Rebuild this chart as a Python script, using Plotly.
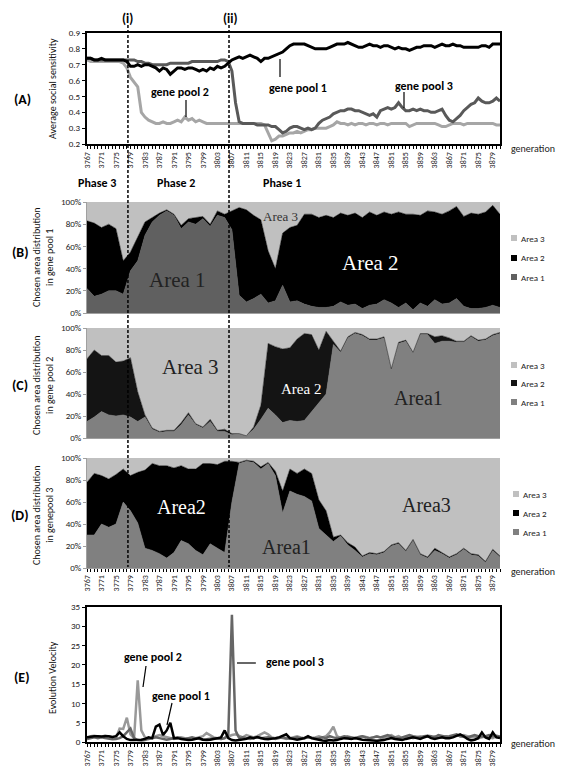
import plotly.graph_objects as go

W, H = 562, 771
def fx(p): return p / W
def fy(p): return 1 - p / H

# ---------------- data ----------------
GEN = list(range(3767, 3882))          # every generation (panels A, E)
GEN2 = list(range(3767, 3882, 2))      # every second generation (panels B-D)
TICKS = list(range(3767, 3880, 4))

# (A) average social sensitivity
A_GP1 = [0.74,0.74,0.73,0.73,0.74,0.73,0.73,0.73,0.73,0.73,
         0.73,0.72,0.69,0.69,0.70,0.69,0.70,0.70,0.69,0.68,
         0.66,0.68,0.67,0.64,0.66,0.68,0.68,0.67,0.68,0.68,
         0.67,0.66,0.67,0.66,0.68,0.67,0.69,0.68,0.69,0.71,
         0.73,0.74,0.75,0.74,0.75,0.76,0.75,0.74,0.72,0.74,
         0.74,0.75,0.76,0.77,0.78,0.80,0.82,0.83,0.83,0.83,
         0.83,0.82,0.81,0.80,0.80,0.80,0.80,0.81,0.82,0.83,
         0.83,0.83,0.84,0.83,0.82,0.81,0.81,0.82,0.83,0.82,
         0.82,0.81,0.82,0.82,0.81,0.80,0.81,0.80,0.80,0.79,
         0.80,0.81,0.81,0.82,0.82,0.82,0.81,0.82,0.83,0.82,
         0.82,0.83,0.82,0.82,0.81,0.81,0.81,0.81,0.81,0.82,
         0.82,0.81,0.83,0.83,0.83]
A_GP2 = [0.73,0.72,0.72,0.72,0.72,0.72,0.72,0.72,0.72,0.72,
         0.71,0.68,0.62,0.59,0.56,0.40,0.37,0.35,0.34,0.33,
         0.33,0.34,0.33,0.33,0.34,0.35,0.34,0.37,0.35,0.36,
         0.34,0.35,0.34,0.33,0.33,0.33,0.33,0.33,0.33,0.33,
         0.33,0.33,0.33,0.33,0.33,0.33,0.33,0.33,0.33,0.32,
         0.27,0.22,0.23,0.25,0.25,0.26,0.27,0.27,0.28,0.27,
         0.28,0.29,0.29,0.30,0.30,0.30,0.30,0.31,0.32,0.34,
         0.33,0.33,0.32,0.33,0.32,0.33,0.33,0.32,0.33,0.33,
         0.32,0.33,0.33,0.32,0.33,0.33,0.33,0.33,0.33,0.31,
         0.32,0.33,0.33,0.33,0.33,0.33,0.33,0.32,0.31,0.31,
         0.32,0.33,0.33,0.33,0.32,0.33,0.33,0.33,0.33,0.33,
         0.33,0.33,0.33,0.32,0.32]
A_GP3 = [0.74,0.74,0.73,0.73,0.73,0.73,0.73,0.73,0.73,0.73,
         0.73,0.73,0.73,0.73,0.72,0.72,0.71,0.71,0.70,0.70,
         0.70,0.70,0.70,0.71,0.71,0.71,0.71,0.71,0.71,0.72,
         0.72,0.72,0.72,0.72,0.72,0.72,0.72,0.73,0.73,0.72,
         0.66,0.46,0.34,0.33,0.33,0.33,0.33,0.32,0.32,0.32,
         0.32,0.31,0.31,0.29,0.27,0.28,0.30,0.31,0.31,0.30,
         0.29,0.30,0.29,0.30,0.33,0.35,0.36,0.37,0.39,0.40,
         0.41,0.41,0.42,0.42,0.41,0.41,0.40,0.39,0.38,0.39,
         0.37,0.41,0.42,0.43,0.42,0.43,0.46,0.43,0.41,0.41,
         0.42,0.41,0.42,0.41,0.41,0.40,0.40,0.41,0.42,0.38,
         0.35,0.34,0.36,0.38,0.41,0.43,0.45,0.46,0.49,0.47,
         0.46,0.46,0.47,0.49,0.47]

# (B) chosen area distribution, gene pool 1 (%)
B_AREA1 = [22,15,17,20,20,17,38,47,70,82, 88,92,88,76,82,80,85,78,88,86,
           75,16,10,13,17,9,11,25,10,11, 8,6,5,5,6,10,7,8,4,7,
           8,12,9,5,9,3,9,6,12,8, 9,13,6,4,4,5,7,5]
B_AREA2 = [61,66,60,60,56,30,17,21,12,4, 2,1,1,3,3,6,2,2,4,3,
           17,79,83,75,67,47,29,47,67,68, 81,83,81,83,80,80,81,82,82,84,
           80,79,80,86,80,86,79,86,79,81, 83,83,81,86,85,86,90,84]
B_AREA3 = [17,19,23,20,24,53,45,32,18,14, 10,7,11,21,15,14,13,20,8,11,
           8,5,7,12,16,44,60,28,23,21, 11,11,14,12,14,10,12,10,14,9,
           12,9,11,9,11,11,12,8,9,11, 8,4,13,10,11,9,3,11]

# (C) gene pool 2 (%)
C_AREA1 = [15,19,24,21,20,21,19,15,19,8, 5,6,6,12,21,12,9,15,6,6,
           3,4,2,8,17,27,21,14,16,15, 16,24,31,40,85,78,91,95,93,89,
           89,91,62,86,88,77,94,94,86,88, 88,87,87,92,88,89,93,95]
C_AREA2 = [57,61,51,54,49,49,54,27,2,1, 1,1,1,2,2,1,1,2,1,2,
           1,0,0,2,13,59,62,67,66,75, 79,70,49,57,3,1,1,1,1,1,
           1,1,1,1,1,1,1,1,6,5, 3,1,1,1,1,1,1,1]
C_AREA3 = [28,20,25,25,31,30,27,58,79,91, 94,93,93,86,77,87,90,83,93,92,
           96,96,98,90,70,14,17,19,18,10, 5,6,20,3,12,21,8,4,6,10,
           10,8,37,13,11,22,5,5,8,7, 9,12,12,7,11,10,6,4]

# (D) gene pool 3 (%)
D_AREA1 = [30,30,40,37,40,60,52,41,18,16, 13,9,14,25,22,16,12,22,18,14,
           60,95,97,96,90,95,84,50,70,67, 65,61,36,30,24,29,21,16,10,13,
           12,14,20,22,15,25,12,9,16,13, 9,12,17,12,11,5,16,10]
D_AREA2 = [48,56,44,44,45,30,32,46,71,79, 80,84,77,68,68,74,83,73,76,83,
           37,1,1,1,2,1,4,20,20,19, 25,25,26,22,4,1,2,3,1,1,
           1,1,1,1,1,1,1,1,2,1, 1,1,1,1,1,1,1,1]
D_AREA3 = [22,14,16,19,15,10,16,13,11,5, 7,7,9,7,10,10,5,5,6,3,
           3,4,2,3,8,4,12,30,10,14, 10,14,38,48,72,70,77,81,89,86,
           87,85,79,77,84,74,87,90,82,86, 90,87,82,87,88,94,83,89]

# (E) evolution velocity
E_GP1 = [1.2,1.4,1.5,1.5,1.4,1.5,1.5,1.3,1.5,2.5,
         1.5,0.8,0.5,0.5,0.5,0.6,0.8,1.2,1.0,4.0,
         4.5,1.8,3.0,5.0,1.0,1.0,0.8,0.6,0.5,0.6,
         0.8,1.0,0.6,0.5,0.6,0.8,1.0,1.2,3.0,1.0,
         0.5,0.4,0.5,0.6,0.8,1.2,1.0,1.3,1.0,0.8,
         0.7,0.8,1.0,1.2,1.5,2.0,1.0,0.7,0.6,0.8,
         1.0,1.5,1.0,0.8,0.5,0.4,0.3,0.5,0.4,0.5,
         0.8,1.0,0.9,0.8,1.0,0.7,0.6,0.5,0.5,0.4,
         0.3,0.4,0.5,0.8,1.0,0.8,0.6,0.5,0.8,1.0,
         1.2,1.0,0.8,1.2,1.5,1.0,0.8,1.0,1.2,1.0,
         1.0,1.2,1.5,2.0,1.5,0.8,0.4,0.6,1.0,2.5,
         1.2,0.8,2.5,1.2,1.0]
E_GP2 = [1.0,1.5,1.6,1.4,1.3,1.7,1.5,1.2,1.0,3.5,
         3.4,6.3,2.0,1.0,16.0,3.0,1.2,0.8,1.0,1.5,
         1.8,1.5,1.2,1.0,0.8,1.0,1.2,1.0,0.8,0.7,
         1.0,1.2,1.5,2.3,1.8,1.2,1.0,0.8,1.0,1.5,
         1.8,2.0,1.5,1.2,1.8,1.5,1.2,1.5,2.0,2.5,
         2.0,1.2,1.0,1.2,1.0,0.8,1.0,1.2,1.5,1.2,
         1.0,1.2,1.0,1.2,1.5,1.2,1.5,2.5,4.0,1.5,
         1.0,1.2,1.5,1.2,1.0,1.2,1.5,1.3,1.0,1.2,
         1.5,1.2,1.0,1.5,1.8,1.2,1.5,1.0,1.2,1.5,
         1.0,1.2,1.5,1.2,1.5,1.2,1.5,1.3,1.2,1.5,
         1.2,1.5,1.8,1.5,1.8,1.5,1.2,1.3,1.0,1.2,
         1.5,1.2,1.0,1.5,1.2]
E_GP3 = [0.8,1.0,1.2,1.0,1.2,1.0,0.8,0.7,0.8,1.0,
         1.5,2.5,3.5,1.0,0.5,0.4,0.5,0.8,1.0,1.2,
         1.0,0.8,0.6,0.8,1.0,1.2,1.0,0.8,1.0,1.2,
         1.0,0.8,0.6,0.7,0.8,1.0,0.9,0.8,1.0,2.0,
         33.0,3.0,1.0,1.2,1.0,0.8,1.0,1.2,1.0,1.1,
         1.2,1.0,0.8,1.0,1.2,1.0,0.9,1.0,1.2,1.0,
         1.0,1.2,1.0,0.9,1.0,1.2,1.0,1.5,1.2,1.0,
         1.2,1.5,1.3,1.2,1.0,1.3,1.5,1.2,1.0,1.2,
         1.4,1.2,1.5,1.8,1.4,1.2,1.0,1.2,1.5,1.8,
         1.5,1.4,1.2,1.5,1.6,1.5,1.2,1.8,1.5,1.4,
         1.5,1.8,2.0,1.5,1.3,1.2,1.5,1.8,1.5,1.4,
         1.5,1.8,1.5,1.6,1.4]

# phase boundaries (generations)
BOUNDARIES = [3778.3, 3806.2]

# ---------------- styling ----------------
SANS = "Carlito, 'Liberation Sans Narrow', Calibri, 'Open Sans', sans-serif"
SERIF = "'Liberation Serif', 'Times New Roman', serif"
XDOM = [fx(87), fx(500)]

fig = go.Figure()

def line(x, y, color, xa, ya, width):
    fig.add_trace(go.Scatter(x=x, y=y, mode='lines', line=dict(color=color, width=width),
                             xaxis=xa, yaxis=ya, showlegend=False, hoverinfo='skip'))

def area(y, color, xa, ya, grp):
    fig.add_trace(go.Scatter(x=GEN2, y=y, mode='lines', stackgroup=grp,
                             line=dict(color=color, width=0.5), fillcolor=color,
                             xaxis=xa, yaxis=ya, showlegend=False, hoverinfo='skip'))

# A
line(GEN, A_GP2, '#a6a6a6', 'x', 'y', 3)
line(GEN, A_GP3, '#595959', 'x', 'y', 3)
line(GEN, A_GP1, '#000000', 'x', 'y', 3)
# B
area(B_AREA1, '#606060', 'x2', 'y2', 'b')
area(B_AREA2, '#000000', 'x2', 'y2', 'b')
area(B_AREA3, '#c0c0c0', 'x2', 'y2', 'b')
# C
area(C_AREA1, '#808080', 'x3', 'y3', 'c')
area(C_AREA2, '#141414', 'x3', 'y3', 'c')
area(C_AREA3, '#c0c0c0', 'x3', 'y3', 'c')
# D
area(D_AREA1, '#808080', 'x4', 'y4', 'd')
area(D_AREA2, '#000000', 'x4', 'y4', 'd')
area(D_AREA3, '#c0c0c0', 'x4', 'y4', 'd')
# E
line(GEN, E_GP2, '#999999', 'x5', 'y5', 2.5)
line(GEN, E_GP3, '#666666', 'x5', 'y5', 2.5)
line(GEN, E_GP1, '#000000', 'x5', 'y5', 2.5)

def xaxis_cfg(anchor, labels, boxed, linecolor='black', lw=2):
    d = dict(domain=XDOM, anchor=anchor, range=[3767, 3881], showgrid=False, zeroline=False,
             automargin=False,
             showline=True, linecolor=linecolor, linewidth=lw, mirror=boxed,
             tickmode='array', tickvals=TICKS,
             ticktext=[str(t) for t in TICKS] if labels else ['' for t in TICKS],
             tickangle=-90, tickfont=dict(family=SANS, size=8, color='#222'))
    if labels:
        d.update(ticks='outside', ticklen=3, tickcolor='black', tickwidth=1,
                 minor=dict(ticks='outside', tick0=3767, dtick=1, ticklen=3, tickcolor='black', tickwidth=1))
    else:
        d.update(ticks='')
    return d

def yaxis_cfg(anchor, dom, rng, dtick, boxed, fmt=None, suffix='', linecolor='black', lw=2):
    d = dict(domain=dom, anchor=anchor, range=rng, dtick=dtick, showgrid=False, zeroline=False,
             automargin=False,
             showline=True, linecolor=linecolor, linewidth=lw, mirror=boxed,
             ticks='outside', ticklen=3, tickcolor=linecolor,
             tickfont=dict(family=SANS, size=9, color='#222'), ticksuffix=suffix)
    if fmt:
        d['tickformat'] = fmt
    return d

fig.update_layout(
    width=W, height=H, margin=dict(l=0, r=0, t=0, b=0, autoexpand=False),
    paper_bgcolor='white', plot_bgcolor='white', showlegend=False,
    xaxis=xaxis_cfg('y', True, True),
    yaxis=yaxis_cfg('x', [fy(144), fy(33)], [0.2, 0.9], 0.1, True, fmt='.1f'),
    xaxis2=xaxis_cfg('y2', False, False, '#a0a0a0', 1),
    yaxis2=yaxis_cfg('x2', [fy(313), fy(202)], [0, 100], 20, False, suffix='%', linecolor='#a0a0a0', lw=1),
    xaxis3=xaxis_cfg('y3', False, False, '#a0a0a0', 1),
    yaxis3=yaxis_cfg('x3', [fy(438), fy(328)], [0, 100], 20, False, suffix='%', linecolor='#a0a0a0', lw=1),
    xaxis4=xaxis_cfg('y4', True, False, '#a0a0a0', 1),
    yaxis4=yaxis_cfg('x4', [fy(568), fy(458)], [0, 100], 20, False, suffix='%', linecolor='#a0a0a0', lw=1),
    xaxis5=xaxis_cfg('y5', True, True),
    yaxis5=yaxis_cfg('x5', [fy(742), fy(607)], [0, 35], 5, True),
)

ann = []
def text(px, py, s, size, bold=False, color='black', family=SANS, angle=0, xanchor='center'):
    ann.append(dict(x=fx(px), y=fy(py), xref='paper', yref='paper', text=(f'<b>{s}</b>' if bold else s),
                    showarrow=False, font=dict(family=family, size=size, color=color),
                    textangle=angle, xanchor=xanchor, yanchor='middle'))

# panel letters
text(22, 100, '(A)', 14, True)
text(20, 253, '(B)', 14, True)
text(20, 385, '(C)', 14, True)
text(20, 515, '(D)', 14, True)
text(22, 677, '(E)', 14, True)
# boundary markers and phases
text(127, 18, '(i)', 13, True)
text(230, 18, '(ii)', 13, True)
text(97, 183, 'Phase 3', 12, True)
text(176, 183, 'Phase 2', 12, True)
text(282, 183, 'Phase 1', 12, True)
# axis titles
text(52, 88, 'Average social sensitivity', 10, False, '#111', angle=-90)
text(43, 257, 'Chosen area distribution<br>in gene pool 1', 10, False, '#111', angle=-90)
text(43, 385, 'Chosen area distribution<br>in gene pool 2', 10, False, '#111', angle=-90)
text(43, 515, 'Chosen area distribution<br>in genepool 3', 10, False, '#111', angle=-90)
text(52, 677, 'Evolution Velocity', 10, False, '#111', angle=-90)
# generation labels
text(509, 148, 'generation', 10, False, '#222', xanchor='left')
text(509, 571, 'generation', 10, False, '#222', xanchor='left')
text(509, 743, 'generation', 10, False, '#222', xanchor='left')
# series labels A
text(298, 88, 'gene pool 1', 12, True)
text(180, 92, 'gene pool 2', 12, True)
text(424, 86, 'gene pool 3', 12, True)
# series labels E
text(153, 657, 'gene pool 2', 12, True)
text(181, 696, 'gene pool 1', 12, True)
text(295, 662, 'gene pool 3', 12, True)
# area labels
text(280, 216, 'Area 3', 13, False, '#333', SERIF)
text(370, 263, 'Area 2', 21, False, 'white', SERIF)
text(177, 280, 'Area 1', 21, False, '#222', SERIF)
text(190, 367, 'Area 3', 21, False, '#222', SERIF)
text(301, 389, 'Area 2', 15, False, 'white', SERIF)
text(418, 398, 'Area1', 20, False, '#222', SERIF)
text(181, 507, 'Area2', 20, False, 'white', SERIF)
text(286, 547, 'Area1', 20, False, '#222', SERIF)
text(426, 505, 'Area3', 20, False, '#222', SERIF)

shapes = []
# legends
def legend(x0, ys, colors):
    for yy, c, lab in zip(ys, colors, ['Area 3', 'Area 2', 'Area 1']):
        shapes.append(dict(type='rect', xref='paper', yref='paper', x0=fx(x0), x1=fx(x0 + 6),
                           y0=fy(yy + 3), y1=fy(yy - 3), fillcolor=c, line=dict(width=0)))
        text(x0 + 8, yy, lab, 9, False, '#222', xanchor='left')
legend(511, [238, 258, 277], ['#c0c0c0', '#000000', '#606060'])
legend(511, [365, 383, 402], ['#c0c0c0', '#141414', '#808080'])
legend(513, [494, 513, 532], ['#c0c0c0', '#000000', '#808080'])

# dashed boundary lines
for b in BOUNDARIES:
    shapes.append(dict(type='line', xref='x', yref='paper', x0=b, x1=b, y0=fy(25), y1=fy(567),
                       line=dict(color='black', width=1.5, dash='3px,2px')))

# pointer lines
def seg(x0, y0, x1, y1):
    shapes.append(dict(type='line', xref='paper', yref='paper', x0=fx(x0), y0=fy(y0), x1=fx(x1), y1=fy(y1),
                       line=dict(color='black', width=1.2)))
seg(280, 59, 280, 77)
seg(186, 100, 186, 117)
seg(404, 92, 404, 108)
seg(146, 666, 143, 687)
seg(172, 703, 167, 725)
seg(237, 663, 256, 663)

fig.update_layout(annotations=ann, shapes=shapes)
fig.write_html("out.html", config={'displayModeBar': False},
               post_script="document.body.style.margin='0';document.body.style.padding='0';")
